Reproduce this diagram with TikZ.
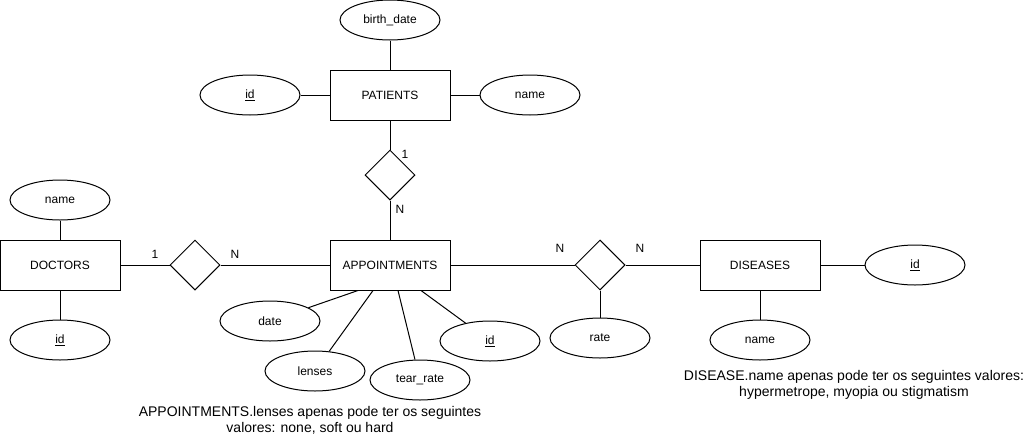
\documentclass[tikz,border=0pt]{standalone}
\usepackage{fontspec}
\setmainfont{Liberation Sans}
\usetikzlibrary{shapes.geometric}
\begin{document}
\begin{tikzpicture}[x=1pt,y=-1pt,
  every node/.style={font=\fontsize{12}{16}\selectfont, text=black},
  entity/.style={draw, line width=1pt, rectangle, minimum width=120pt, minimum height=50pt, inner sep=0pt},
  attr/.style={draw, line width=1pt, ellipse, minimum width=100pt, minimum height=40pt, inner sep=0pt},
  rel/.style={draw, line width=1pt, diamond, minimum width=50pt, minimum height=50pt, inner sep=0pt},
  card/.style={inner sep=0pt},
  conn/.style={line width=1pt},
  note/.style={align=center, inner sep=0pt, font=\fontsize{14}{16}\selectfont}]
\useasboundingbox (0,0) rectangle (1031,437);

% entities
\node[entity] (pat) at (390,95) {PATIENTS};
\node[entity] (doc) at (60,265) {DOCTORS};
\node[entity] (app) at (390,265) {APPOINTMENTS};
\node[entity] (dis) at (760,265) {DISEASES};

% relationships
\node[rel] (r1) at (390,175) {};
\node[rel] (r2) at (195,265) {};
\node[rel] (r3) at (600,265) {};

% attributes
\node[attr] (pbirth) at (390,20) {birth\_date};
\node[attr] (pid) at (250,95) {\underline{id}};
\node[attr] (pname) at (530,95) {name};
\node[attr] (dname) at (60,200) {name};
\node[attr] (did) at (60,340) {\underline{id}};
\node[attr] (adate) at (270,321) {date};
\node[attr] (alenses) at (315,371) {lenses};
\node[attr] (atear) at (420,380) {tear\_rate};
\node[attr] (aid) at (490,341) {\underline{id}};
\node[attr] (rrate) at (600,338) {rate};
\node[attr] (disname) at (760,340) {name};
\node[attr] (disid) at (915,265) {\underline{id}};

% connectors
\draw[conn] (pbirth) -- (pat);
\draw[conn] (pid) -- (pat);
\draw[conn] (pname) -- (pat);
\draw[conn] (pat) -- (r1);
\draw[conn] (r1) -- (app);
\draw[conn] (dname) -- (doc);
\draw[conn] (did) -- (doc);
\draw[conn] (doc) -- (r2);
\draw[conn] (r2) -- (app);
\draw[conn] (app) -- (r3);
\draw[conn] (r3) -- (dis);
\draw[conn] (r3) -- (rrate);
\draw[conn] (dis) -- (disname);
\draw[conn] (dis) -- (disid);
\draw[conn] ([xshift=-32pt]app.south) -- (adate);
\draw[conn] ([xshift=-17pt]app.south) -- (alenses);
\draw[conn] ([xshift=8pt]app.south) -- (atear);
\draw[conn] ([xshift=31pt]app.south) -- (aid);

% cardinalities
\node[card] (c1) at (405,154) {1};
\node[card] (c2) at (400,209) {N};
\node[card] (c3) at (155,254) {1};
\node[card] (c4) at (235,254) {N};
\node[card] (c5) at (560,248) {N};
\node[card] (c6) at (640,248) {N};

% notes
\node[note] (n1) at (310,420) {APPOINTMENTS.lenses apenas pode ter os seguintes\\valores: none, soft ou hard};
\node[note] (n2) at (854,385) {DISEASE.name apenas pode ter os seguintes valores:\\hypermetrope, myopia ou stigmatism};
\end{tikzpicture}
\end{document}
